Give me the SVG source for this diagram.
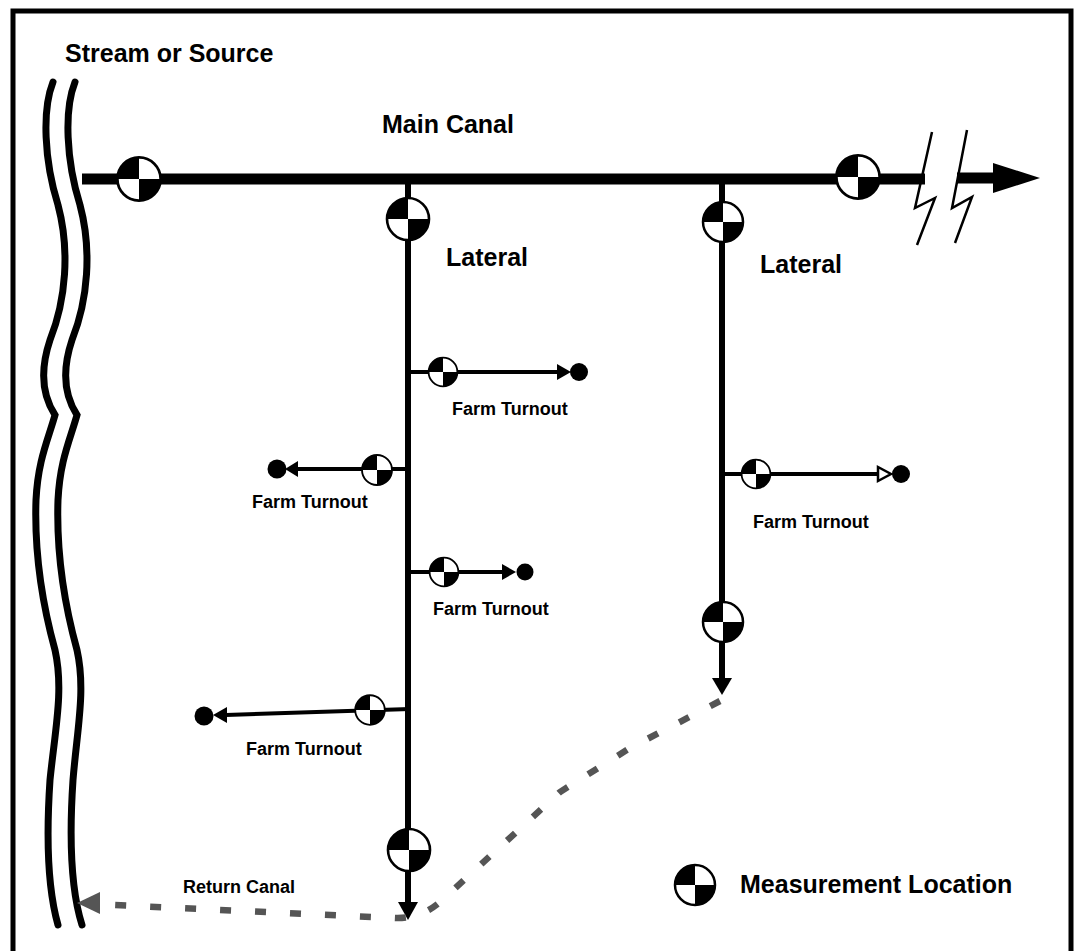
<svg xmlns="http://www.w3.org/2000/svg" width="1075" height="951" viewBox="0 0 1075 951">
<defs>
<style>
.lbl{font-family:"Liberation Sans",Arial,sans-serif;font-weight:bold;fill:#000}
.big{font-size:25px}
.sm{font-size:18px}
.canal{stroke:#000;fill:none}
.stream{stroke:#000;stroke-width:7;fill:none;stroke-linecap:round}
.ret{stroke:#555;stroke-width:6.5;fill:none;stroke-dasharray:11 24}
</style>
<g id="ml">
<circle r="20" fill="#fff" stroke="#000" stroke-width="2.5"/>
<path d="M0 0 L-20 0 A20 20 0 0 1 0 -20 Z M0 0 L20 0 A20 20 0 0 1 0 20 Z" fill="#000"/>
</g>
</defs>
<rect x="13" y="11" width="1058" height="950" fill="#fff" stroke="#000" stroke-width="5"/>

<g id="stream">
<path class="stream" d="M53 82 C42 110 44 160 58 205 C70 250 66 300 50 340 C40 370 42 395 55 415 C48 440 38 460 36 500 C34 560 44 610 55 650 C64 690 55 730 50 780 C46 840 48 890 58 925"/>
<path class="stream" d="M75 82 C64 110 66 160 80 205 C92 250 88 300 72 340 C62 370 64 395 77 415 C70 440 60 460 58 500 C56 560 66 610 77 650 C86 690 77 730 73 780 C69 840 71 890 82 925"/>
</g>
<text class="lbl big" x="65" y="62">Stream or Source</text>

<g id="connectors">
<line class="canal" x1="82" y1="179" x2="925" y2="179" stroke-width="11"/>
<polyline class="canal" stroke-width="2.5" points="932,132 915,208 935,198 917,245"/>
<polyline class="canal" stroke-width="2.5" points="967,130 952,208 972,197 955,243"/>
<line class="canal" x1="957" y1="178" x2="995" y2="178" stroke-width="11"/>
<polygon points="993,163 1040,178 993,193" fill="#000"/>
<line class="canal" x1="408" y1="184" x2="408" y2="903" stroke-width="6"/>
<polygon points="398,902 418,902 408,920" fill="#000"/>
<line class="canal" x1="722" y1="184" x2="722" y2="680" stroke-width="6"/>
<polygon points="712,678 732,678 722,695" fill="#000"/>
<path class="ret" d="M720 701 L630 748 L560 792 L440 902 Q420 919 395 918 L113 905"/>
<polygon points="77,903 100,892 100,914" fill="#555"/>
</g>

<g id="main-canal-ml1"><use href="#ml" x="139" y="179" transform="translate(139 179) scale(1.08) translate(-139 -179)"/></g>
<g id="main-canal-ml2"><use href="#ml" x="858" y="177" transform="translate(858 177) scale(1.08) translate(-858 -177)"/></g>
<text class="lbl big" x="382" y="133">Main Canal</text>

<g id="lateral1">
<use href="#ml" x="408" y="219" transform="translate(408 219) scale(1.05) translate(-408 -219)"/>
<text class="lbl big" x="446" y="266">Lateral</text>
<use href="#ml" x="409" y="850" transform="translate(409 850) scale(1.05) translate(-409 -850)"/>
</g>
<g id="lateral2">
<use href="#ml" x="723" y="222"/>
<text class="lbl big" x="760" y="273">Lateral</text>
<use href="#ml" x="723" y="622"/>
</g>

<g id="turnout1">
<line class="canal" x1="410" y1="372" x2="558" y2="372" stroke-width="4"/>
<use href="#ml" x="443" y="372" transform="translate(443 372) scale(0.72) translate(-443 -372)"/>
<polygon points="557,364 557,380 571,372" fill="#000"/>
<circle cx="579" cy="372" r="9" fill="#000"/>
<text class="lbl sm" x="452" y="415">Farm Turnout</text>
</g>
<g id="turnout2">
<line class="canal" x1="405" y1="469" x2="297" y2="469" stroke-width="4"/>
<use href="#ml" x="377" y="470" transform="translate(377 470) scale(0.75) translate(-377 -470)"/>
<polygon points="298,461 298,477 285,469" fill="#000"/>
<circle cx="277" cy="469" r="9.5" fill="#000"/>
<text class="lbl sm" x="252" y="508">Farm Turnout</text>
</g>
<g id="turnout3">
<line class="canal" x1="410" y1="572" x2="503" y2="572" stroke-width="4"/>
<use href="#ml" x="444" y="572" transform="translate(444 572) scale(0.72) translate(-444 -572)"/>
<polygon points="502,564 502,580 516,572" fill="#000"/>
<circle cx="525" cy="572" r="8.5" fill="#000"/>
<text class="lbl sm" x="433" y="615">Farm Turnout</text>
</g>
<g id="turnout4">
<line class="canal" x1="410" y1="709" x2="226" y2="715" stroke-width="4"/>
<use href="#ml" x="370" y="710" transform="translate(370 710) scale(0.74) translate(-370 -710)"/>
<polygon points="227,707 227,723 213,715" fill="#000"/>
<circle cx="204" cy="716" r="9.5" fill="#000"/>
<text class="lbl sm" x="246" y="755">Farm Turnout</text>
</g>
<g id="turnout5">
<line class="canal" x1="724" y1="474" x2="878" y2="474" stroke-width="4"/>
<use href="#ml" x="756" y="474" transform="translate(756 474) scale(0.72) translate(-756 -474)"/>
<polygon points="878,467 878,481 891,474" fill="#fff" stroke="#000" stroke-width="2.5"/>
<circle cx="901" cy="474" r="9" fill="#000"/>
<text class="lbl sm" x="753" y="528">Farm Turnout</text>
</g>

<text class="lbl sm" x="183" y="893">Return Canal</text>

<g id="legend">
<use href="#ml" x="695" y="885"/>
<text class="lbl big" x="740" y="893">Measurement Location</text>
</g>
</svg>
